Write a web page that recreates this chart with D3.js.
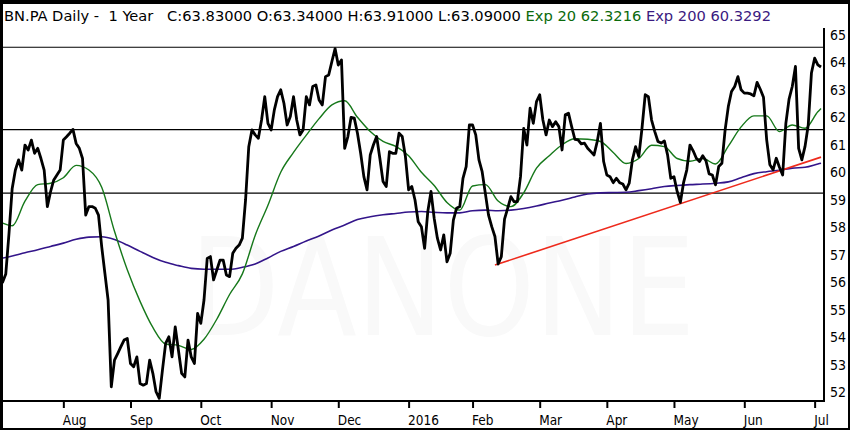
<!DOCTYPE html>
<html lang="en">
	<head>
		<meta charset="UTF-8" />
		<title>BN.PA Daily - 1 Year</title>
		<script src="https://d3js.org/d3.v7.min.js"></script>
		<style>
			body {
				margin: 0;
				padding: 0;
				background: #000;
			}
			svg text {
				font-family: "DejaVu Sans Condensed", "Liberation Sans Narrow", "DejaVu Sans", sans-serif;
				font-stretch: condensed;
			}
		</style>
	</head>
	<body>
		<svg width="850" height="430"></svg>
		<script>
			// daily closes, one per trading day (Jul 6 2015 .. Jul 5 2016)
			const closes = [
				55.95, 56.0, 56.3, 57.77, 59.41, 60.08, 60.45, 60.08, 60.99, 60.81,
				61.17, 60.69, 60.87, 60.5, 60.08, 58.75, 59.29, 59.72, 59.9, 60.08,
				61.17, 61.29, 61.42, 61.56, 61.05, 60.87, 60.5, 58.44, 58.75, 58.75,
				58.69, 58.44, 57.29, 56.32, 55.35, 52.19, 53.16, 53.4, 53.65, 53.89,
				53.95, 53.04, 52.92, 53.28, 52.31, 52.25, 52.31, 53.16, 52.68, 52.01,
				51.77, 52.8, 53.77, 54.01, 53.28, 54.37, 53.52, 52.68, 52.55, 53.89,
				53.28, 53.04, 54.86, 54.5, 55.35, 56.86, 56.93, 56.08, 56.44, 56.8,
				56.8, 56.26, 56.2, 57.05, 57.23, 57.35, 57.6, 58.99, 60.93, 61.54,
				61.36, 61.24, 61.9, 62.75, 61.78, 61.54, 62.27, 62.75, 63.0, 62.51,
				61.72, 62.03, 62.75, 61.9, 61.36, 61.54, 62.75, 62.45, 63.12, 63.18,
				62.63, 62.45, 63.48, 63.54, 64.03, 64.5, 63.9, 64.09, 60.87, 61.3,
				62.0, 61.97, 61.42, 60.69, 59.84, 59.36, 60.63, 61.0, 61.3, 60.51,
				59.66, 59.48, 60.75, 60.69, 60.69, 61.42, 61.3, 60.57, 59.36, 59.48,
				58.99, 58.2, 58.02, 57.23, 58.57, 59.3, 58.32, 57.6, 57.17, 57.72,
				56.74, 57.05, 58.26, 58.69, 58.75, 59.78, 60.2, 61.72, 61.72, 61.36,
				60.45, 60.02, 59.23, 58.44, 58.02, 57.66, 56.66, 56.93, 58.29, 58.69,
				59.11, 58.93, 58.93, 59.84, 61.6, 60.99, 62.33, 61.78, 62.57, 62.82,
				61.9, 61.36, 61.9, 61.66, 61.84, 61.66, 60.81, 62.09, 62.15, 61.66,
				61.2, 61.18, 61.03, 61.06, 60.87, 60.75, 60.63, 61.12, 61.78, 60.39,
				59.9, 59.84, 59.62, 59.78, 59.62, 59.57, 59.36, 59.6, 60.45, 60.93,
				60.57, 61.6, 62.82, 62.75, 61.9, 61.48, 61.12, 61.06, 61.14, 60.63,
				59.78, 59.84, 59.3, 58.9, 59.62, 60.08, 60.99, 60.78, 60.51, 60.39,
				60.6, 60.42, 59.94, 59.9, 59.54, 60.21, 60.33, 61.54, 62.39, 62.94,
				63.12, 63.48, 63.0, 62.88, 62.88, 62.85, 62.78, 63.27, 63.02, 62.73,
				61.18, 60.27, 60.09, 60.51, 60.18, 59.9, 61.78, 62.66, 63.12, 63.85,
				60.87, 60.45, 60.94, 61.72, 63.61, 64.15, 63.91, 63.83,
			];

			// moving averages read every 4 trading days
			const emaDays = [
				0, 4, 8, 12, 16, 20, 24, 28, 32, 36, 40, 44, 48, 52, 56, 60, 64, 68,
				72, 76, 80, 84, 88, 92, 96, 100, 104, 108, 112, 116, 120, 124, 128,
				132, 136, 140, 144, 148, 152, 156, 160, 164, 168, 172, 176, 180, 184,
				188, 192, 196, 200, 204, 208, 212, 216, 220, 224, 228, 232, 236, 240,
				244, 248, 252, 256, 257,
			];
			const ema20 = [
				58.2, 58.05, 58.95, 59.55, 59.6, 59.8, 60.25, 60.08, 59.45, 57.85,
				56.45, 55.3, 54.35, 53.75, 53.7, 53.55, 53.92, 54.65, 55.55, 56.3,
				57.7, 58.8, 60.0, 60.72, 61.35, 61.95, 62.45, 62.6, 62.0, 61.48,
				61.12, 60.94, 60.6, 60.0, 59.52, 58.9, 58.62, 59.5, 59.55, 58.95,
				58.75, 59.25, 60.15, 60.6, 61.0, 61.22, 61.2, 61.12, 60.72, 60.32,
				60.5, 60.98, 60.93, 60.5, 60.4, 60.5, 60.3, 60.95, 61.65, 62.05,
				62.05, 61.48, 61.72, 61.6, 62.2, 62.32,
			];
			const ema200 = [
				56.85, 56.95, 57.07, 57.18, 57.3, 57.42, 57.56, 57.64, 57.65, 57.55,
				57.35, 57.12, 56.9, 56.72, 56.6, 56.5, 56.47, 56.47, 56.47, 56.54,
				56.66, 56.88, 57.12, 57.3, 57.5, 57.68, 57.9, 58.08, 58.28, 58.38,
				58.45, 58.5, 58.55, 58.57, 58.54, 58.52, 58.52, 58.6, 58.62, 58.6,
				58.62, 58.68, 58.77, 58.88, 58.98, 59.1, 59.21, 59.25, 59.26, 59.27,
				59.33, 59.4, 59.48, 59.52, 59.55, 59.57, 59.6, 59.65, 59.8, 59.95,
				60.02, 60.07, 60.15, 60.18, 60.3, 60.33,
			];

			// first trading day of each month, as index into closes
			const monthTickDays = [20, 41, 63, 85, 106, 128, 148, 169, 190, 211, 233, 255];
			const monthLabels = ["Aug", "Sep", "Oct", "Nov", "Dec", "2016", "Feb", "Mar", "Apr", "May", "Jun", "Jul"];
			const priceTicks = [52, 53, 54, 55, 56, 57, 58, 59, 60, 61, 62, 63, 64, 65];

			// drawn levels and trend line
			const levelLines = [64.55, 61.55, 59.24];
			const trendDays = [155, 257];
			const trendValues = [56.62, 60.55];

			const width = 850;
			const height = 430;
			const plot = { left: 3, right: 824, top: 28, bottom: 401 };

			const svg = d3.select("svg").attr("width", width).attr("height", height);

			// black frame with white panel
			svg.append("rect").attr("width", width).attr("height", height).attr("fill", "#000");
			svg
				.append("rect")
				.attr("x", 3)
				.attr("y", 4)
				.attr("width", 845)
				.attr("height", 424)
				.attr("fill", "#fff");

			const x = d3
				.scaleLinear()
				.domain([0, closes.length - 1])
				.range([-0.6, -0.6 + 3.197 * (closes.length - 1)]);

			const y = d3.scaleLinear().domain([51.71, 65.25]).range([400, 28]);

			svg
				.append("clipPath")
				.attr("id", "plotClip")
				.append("rect")
				.attr("x", plot.left)
				.attr("y", plot.top)
				.attr("width", plot.right - plot.left)
				.attr("height", plot.bottom - plot.top);

			const g = svg.append("g").attr("clip-path", "url(#plotClip)");

			// faint watermark
			g.append("text")
				.attr("x", 190)
				.attr("y", 335)
				.attr("textLength", 505)
				.attr("lengthAdjust", "spacingAndGlyphs")
				.style("font-size", "136px")
				.style("fill", "#f9f9f9")
				.text("DANONE");

			// horizontal levels
			g.selectAll(".level")
				.data(levelLines)
				.enter()
				.append("line")
				.attr("x1", plot.left)
				.attr("x2", plot.right)
				.attr("y1", (d) => y(d))
				.attr("y2", (d) => y(d))
				.attr("stroke", "#000")
				.attr("stroke-width", 1.2);

			const emaLine = (vals) =>
				d3
					.line()
					.x((d, i) => x(emaDays[i]))
					.y((d) => y(d))
					.curve(d3.curveMonotoneX)(vals);

			g.append("path")
				.attr("d", emaLine(ema200))
				.attr("fill", "none")
				.attr("stroke", "#33158a")
				.attr("stroke-width", 1.6);

			g.append("path")
				.attr("d", emaLine(ema20))
				.attr("fill", "none")
				.attr("stroke", "#16781a")
				.attr("stroke-width", 1.4);

			// trend line
			g.append("line")
				.attr("x1", x(trendDays[0]))
				.attr("y1", y(trendValues[0]))
				.attr("x2", x(trendDays[1]))
				.attr("y2", y(trendValues[1]))
				.attr("stroke", "#ee2a1c")
				.attr("stroke-width", 1.6);

			// price
			g.append("path")
				.attr(
					"d",
					d3
						.line()
						.x((d, i) => x(i))
						.y((d) => y(d))(closes)
				)
				.attr("fill", "none")
				.attr("stroke", "#000")
				.attr("stroke-width", 2.8)
				.attr("stroke-linejoin", "round");

			// axes
			const xAxis = svg
				.append("g")
				.attr("transform", `translate(0,${plot.bottom})`)
				.call(
					d3
						.axisBottom(x)
						.tickValues(monthTickDays)
						.tickFormat((d, i) => monthLabels[i])
						.tickSize(7)
						.tickPadding(4)
				);
			xAxis.select(".domain").remove();
			xAxis.selectAll(".tick line").attr("stroke", "#000").attr("stroke-width", 2);
			xAxis
				.selectAll(".tick text")
				.attr("text-anchor", "start")
				.attr("x", -1)
				.attr("dy", "0.95em")
				.style("font-size", "13.5px")
				.style("fill", "#000");

			const yAxis = svg
				.append("g")
				.attr("transform", `translate(${plot.right},0)`)
				.call(d3.axisRight(y).tickValues(priceTicks).tickSize(0).tickPadding(6));
			yAxis.select(".domain").remove();
			yAxis.selectAll(".tick text").style("font-size", "14px").style("fill", "#000");

			svg
				.append("line")
				.attr("x1", plot.left)
				.attr("x2", plot.right + 1)
				.attr("y1", plot.bottom)
				.attr("y2", plot.bottom)
				.attr("stroke", "#000")
				.attr("stroke-width", 2);
			svg
				.append("line")
				.attr("x1", plot.right)
				.attr("x2", plot.right)
				.attr("y1", plot.top)
				.attr("y2", plot.bottom + 1)
				.attr("stroke", "#000")
				.attr("stroke-width", 2);

			// header
			const header = svg
				.append("text")
				.attr("x", 4)
				.attr("y", 21)
				.attr("textLength", 767)
				.attr("lengthAdjust", "spacingAndGlyphs")
				.style("font-size", "14px")
				.attr("xml:space", "preserve");
			header
				.append("tspan")
				.style("fill", "#000")
				.text("BN.PA Daily -  1 Year   C:63.83000 O:63.34000 H:63.91000 L:63.09000 ");
			header.append("tspan").style("fill", "#0b6a0b").text("Exp 20 62.3216 ");
			header.append("tspan").style("fill", "#3a1a80").text("Exp 200 60.3292");
		</script>
	</body>
</html>
